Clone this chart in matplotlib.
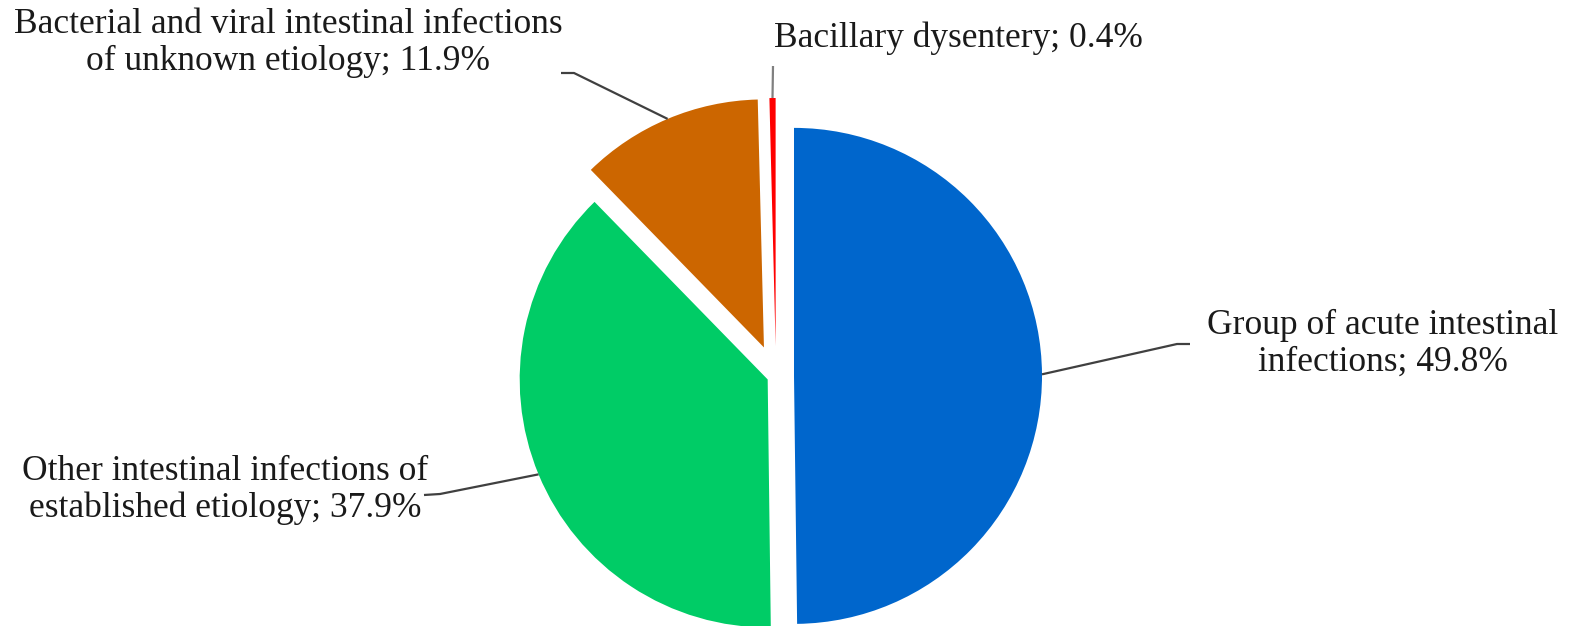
import math
import matplotlib
matplotlib.use("Agg")
import matplotlib.pyplot as plt

plt.rcParams['font.family'] = ['Liberation Serif', 'DejaVu Serif']

# shares of intestinal infections, clockwise from 12 o'clock
names = ['Group of acute intestinal\ninfections',
         'Other intestinal infections of\nestablished etiology',
         'Bacterial and viral intestinal infections\nof unknown etiology',
         'Bacillary dysentery']
shares = [49.8, 37.9, 11.9, 0.4]
colors = ['#0066CC', '#00CC66', '#CC6600', '#FF0000']

W, H = 1586, 626
fig = plt.figure(figsize=(W / 100, H / 100), dpi=100)
ax = fig.add_axes([0, 0, 1, 1])
ax.axis('off')

R = 248
explode = [18, 9, 31, 30]
wedges, _ = ax.pie(shares, colors=colors, startangle=90, counterclock=False,
                   center=(776, H - 376), radius=R, explode=explode,
                   wedgeprops=dict(linewidth=0))
ax.set_xlim(0, W)
ax.set_ylim(0, H)
ax.set_aspect('equal')


def mid_point(w):
    a = math.radians(0.5 * (w.theta1 + w.theta2))
    return (w.center[0] + w.r * math.cos(a), w.center[1] + w.r * math.sin(a))


def img(x, y):
    return (x, H - y)


# label text position (image px), leader path (image px) before the wedge
layout = [
    dict(xy=(1383, 344), ha='center', path=[(1190, 344), (1177, 344)]),
    dict(xy=(225, 490), ha='center', path=[(424, 495), (440, 494)]),
    dict(xy=(288, 43), ha='center', path=[(561, 73), (574, 73)]),
    dict(xy=(774, 38), ha='left', path=[(773, 66)]),
]
line_cols = ['#404040', '#404040', '#404040', '#808080']

for w, name, val, lay, lc in zip(wedges, names, shares, layout, line_cols):
    tx, ty = img(*lay['xy'])
    ax.text(tx, ty, '%s; %.1f%%' % (name, val), ha=lay['ha'], va='center',
            multialignment='center', fontsize=25.5, color='#1a1a1a',
            linespacing=1.15)
    pts = [img(*p) for p in lay['path']] + [mid_point(w)]
    ax.plot([p[0] for p in pts], [p[1] for p in pts], color=lc, lw=1.6,
            solid_capstyle='butt')

fig.savefig('out.png', dpi=100)
